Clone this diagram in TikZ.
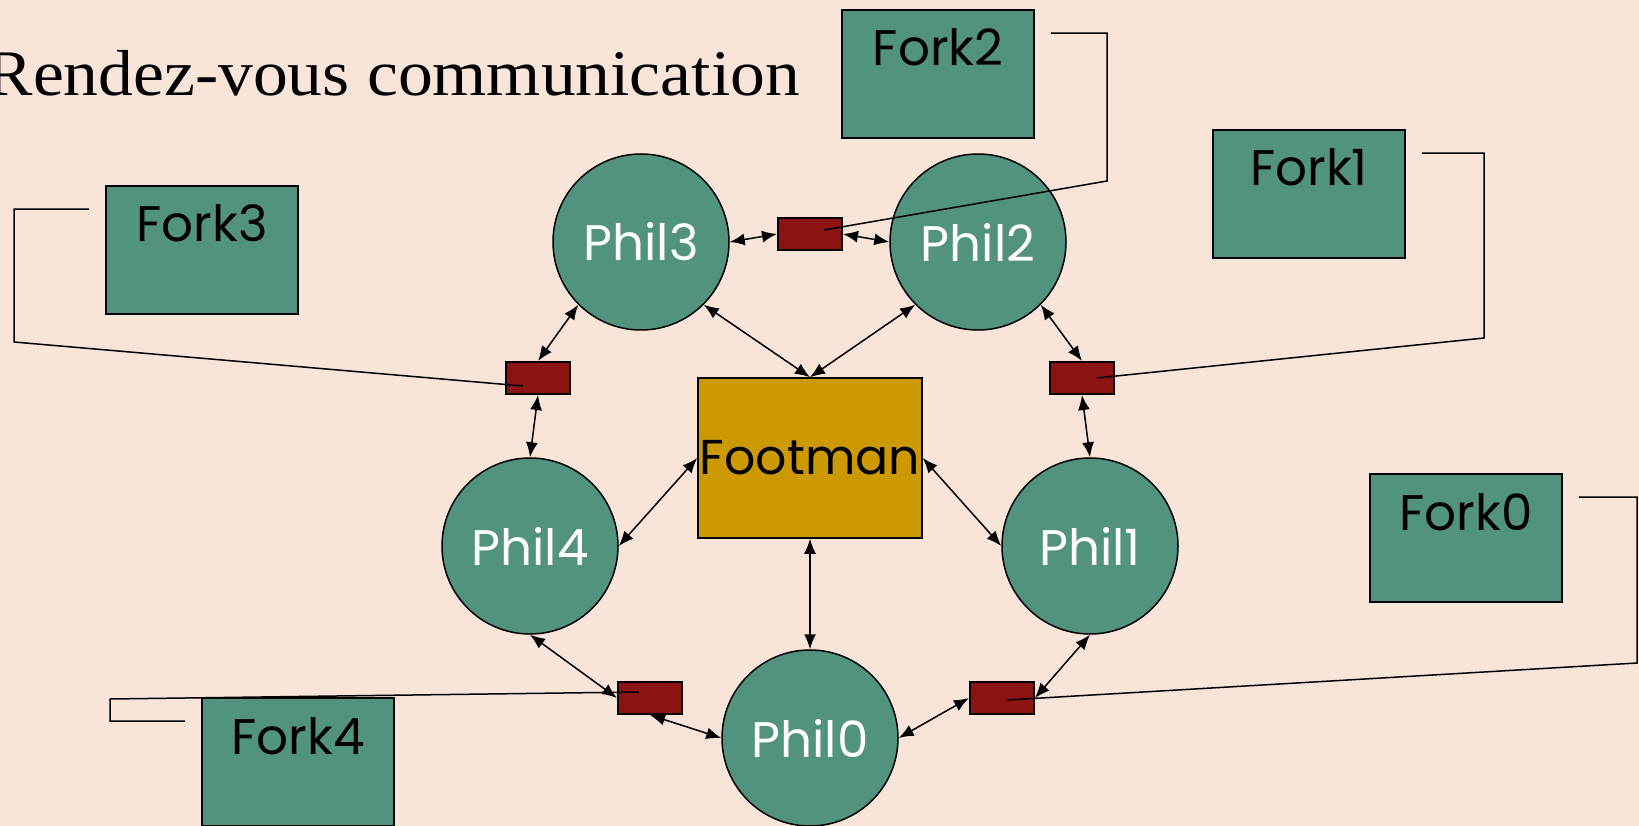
\documentclass[tikz,border=0pt]{standalone}
\usepackage{fontspec}
\usepackage{graphicx}
\setmainfont{Liberation Serif}
\newfontfamily\labfont{Poppins}
\usetikzlibrary{arrows.meta}
\definecolor{bgpeach}{RGB}{248,228,216}
\definecolor{tealc}{RGB}{82,147,127}
\definecolor{goldc}{RGB}{204,153,0}
\definecolor{redc}{RGB}{139,19,19}
\tikzset{
  phil/.style={circle, draw=black, line width=1.5pt, fill=tealc, minimum size=176pt, inner sep=0pt,
    text=white, font=\labfont\fontsize{50}{50}\selectfont},
  foot/.style={rectangle, draw=black, line width=1.5pt, fill=goldc, minimum width=224pt, minimum height=160pt,
    inner sep=0pt, font=\labfont\fontsize{49}{50}\selectfont},
  tok/.style={rectangle, draw=black, line width=2pt, fill=redc, minimum width=64pt, minimum height=32pt, inner sep=0pt},
  forkbox/.style={rectangle, draw=black, line width=1.8pt, fill=tealc, minimum width=192pt, inner sep=0pt,
    text height=56pt, text depth=72pt, font=\labfont\fontsize{50}{50}\selectfont},
  wire/.style={draw=black, line width=1.5pt},
  link/.style={draw=black, line width=1.5pt, {Latex[length=15pt,width=12pt]}-{Latex[length=15pt,width=12pt]}}
}
\begin{document}
\begin{tikzpicture}[x=1pt, y=-1pt]
\fill[bgpeach] (0,0) rectangle (1639,826);
\useasboundingbox (0,0) rectangle (1639,826);

\node[anchor=base east, inner sep=0pt, font=\fontsize{65}{70}\selectfont] (title) at (800,96) {\scalebox{1.07}[1]{Rendez-vous communication}};

% philosophers
\node[phil] (p3) at (641,242) {Phil3};
\node[phil] (p2) at (978,242) {Phil2};
\node[phil] (p4) at (530,546) {Phil4};
\node[phil] (p1) at (1090,546) {Phil1};
\node[phil] (p0) at (810,738) {Phil0};

% footman
\node[foot] (fm) at (810,458) {Footman};

% fork tokens
\node[tok] (t32) at (810,234) {};
\node[tok] (t34) at (538,378) {};
\node[tok] (t21) at (1082,378) {};
\node[tok] (t40) at (650,698) {};
\node[tok] (t10) at (1002,698) {};

% fork boxes
\node[forkbox] (f3) at (202,250) {Fork3};
\node[forkbox] (f2) at (938,74) {Fork2};
\node[forkbox] (f1) at (1309,194) {Fork1};
\node[forkbox] (f0) at (1466,538) {Fork0};
\node[forkbox] (f4) at (298,762) {Fork4};

% links
\draw[link] (p3.east) -- (t32.west);
\draw[link] (t32.east) -- (p2.west);
\draw[link] (p3.-135) -- (t34.north);
\draw[link] (t34.south) -- (p4.north);
\draw[link] (p2.-45) -- (t21.north);
\draw[link] (t21.south) -- (p1.north);
\draw[link] (p3.-45) -- (fm.north);
\draw[link] (p2.-135) -- (fm.north);
\draw[link] (fm.west) -- (p4.east);
\draw[link] (fm.east) -- (p1.west);
\draw[link] (fm.south) -- (p0.north);
\draw[link] (p4.south) -- (t40.west);
\draw[link] (t40.south) -- (p0.west);
\draw[link] (p1.south) -- (t10.east);
\draw[link] (t10.west) -- (p0.east);

% fork wires
\draw[wire] ([xshift=-16pt,yshift=-24pt]f3.north west) -| (14,342) -- ([xshift=-15pt,yshift=-8pt]t34.center);
\draw[wire] ([xshift=16pt,yshift=-24pt]f2.north east) -| (1107,181) -- ([xshift=14pt,yshift=4pt]t32.center);
\draw[wire] ([xshift=16pt,yshift=-24pt]f1.north east) -| (1484,338) -- ([xshift=15pt]t21.center);
\draw[wire] ([xshift=16pt,yshift=-24pt]f0.north east) -| (1637,663) -- ([xshift=5pt,yshift=-2pt]t10.center);
\draw[wire] ([xshift=-16pt,yshift=-24pt]f4.north west) -| (110,699) -- ([xshift=-11pt,yshift=6pt]t40.center);
\end{tikzpicture}
\end{document}
